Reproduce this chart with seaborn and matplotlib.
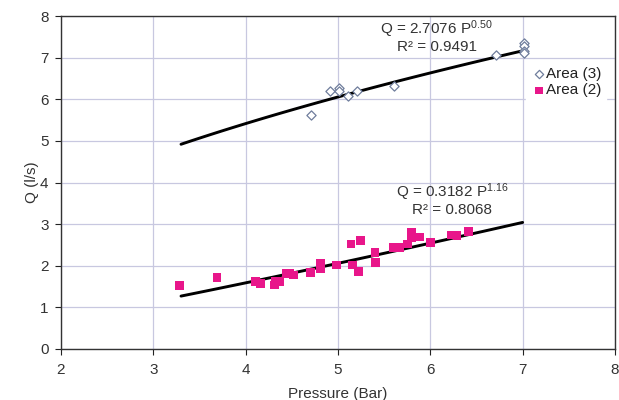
import numpy as np
import pandas as pd
import matplotlib
matplotlib.use("Agg")
import matplotlib.pyplot as plt
import seaborn as sns

# ---- data ----
area3_p = [4.71, 4.91, 5.01, 5.01, 5.11, 5.21, 5.61, 6.71, 7.01, 7.01, 7.01, 7.01]
area3_q = [5.63, 6.21, 6.27, 6.20, 6.07, 6.19, 6.32, 7.07, 7.35, 7.27, 7.15, 7.11]

area2_p = [3.28, 3.69, 4.11, 4.16, 4.31, 4.32, 4.37, 4.44, 4.48, 4.52, 4.70, 4.81,
           4.81, 4.98, 5.14, 5.24, 5.16, 5.22, 5.40, 5.41, 5.60, 5.67, 5.75, 5.80,
           5.80, 5.88, 6.00, 6.23, 6.29, 6.41]
area2_q = [1.53, 1.71, 1.63, 1.58, 1.54, 1.63, 1.63, 1.82, 1.82, 1.78, 1.83, 2.06,
           1.92, 2.02, 2.52, 2.60, 2.02, 1.86, 2.31, 2.07, 2.44, 2.44, 2.52, 2.80,
           2.67, 2.69, 2.55, 2.74, 2.72, 2.82]

fit3_a, fit3_b, fit3_r2 = 2.7076, 0.50, 0.9491
fit2_a, fit2_b, fit2_r2 = 0.3182, 1.16, 0.8068
fit_range = [3.3, 7.0]

x_ticks = [2, 3, 4, 5, 6, 7, 8]
y_ticks = [0, 1, 2, 3, 4, 5, 6, 7, 8]

# ---- style ----
sns.set_theme(style="white")
plt.rcParams['font.family'] = ['Liberation Sans', 'DejaVu Sans']
plt.rcParams['mathtext.fontset'] = 'custom'
plt.rcParams['mathtext.rm'] = 'Liberation Sans'
plt.rcParams['mathtext.it'] = 'Liberation Sans:italic'
plt.rcParams['mathtext.bf'] = 'Liberation Sans:bold'

fig = plt.figure(figsize=(6.19, 4.0), dpi=100)
ax = fig.add_axes([0.0985, 0.1275, 0.895, 0.8325])

df3 = pd.DataFrame({"P": area3_p, "Q": area3_q})
df2 = pd.DataFrame({"P": area2_p, "Q": area2_q})

pf = np.linspace(fit_range[0], fit_range[1], 60)
fit3 = pd.DataFrame({"P": pf, "Q": fit3_a * pf ** fit3_b})
fit2 = pd.DataFrame({"P": pf, "Q": fit2_a * pf ** fit2_b})

grid_c = "#c8c8e0"
ax.set_axisbelow(True)
ax.grid(True, color=grid_c, linewidth=0.9)

sns.lineplot(data=fit3, x="P", y="Q", ax=ax, color="black", linewidth=2.1, zorder=3, legend=False)
sns.lineplot(data=fit2, x="P", y="Q", ax=ax, color="black", linewidth=2.1, zorder=3, legend=False)

sns.scatterplot(data=df3, x="P", y="Q", ax=ax, marker="D", s=22,
                facecolor="white", edgecolor="#6f7d9c", linewidth=0.9,
                label="Area (3)", zorder=4)
sns.scatterplot(data=df2, x="P", y="Q", ax=ax, marker="s", s=40,
                color="#e8168a", edgecolor="none", linewidth=0,
                label="Area (2)", zorder=4)

ax.set_xlim(2, 8)
ax.set_ylim(0, 8)
ax.set_xticks(x_ticks)
ax.set_yticks(y_ticks)
ax.tick_params(axis="both", which="both", direction="out", length=4, width=0.8,
               colors="#222222", labelsize=11, labelcolor="#333333", bottom=True, left=True)
ax.tick_params(axis="x", pad=6)
ax.tick_params(axis="y", pad=5)
for s in ax.spines.values():
    s.set_color("#333333")
    s.set_linewidth(1.0)

ax.set_xlabel("Pressure (Bar)", fontsize=11, color="#333333", labelpad=7)
ax.set_ylabel("Q (l/s)", fontsize=11, color="#333333", labelpad=1)

ax.text(6.07, 7.69, r"Q = %.4f P$^{\mathregular{%.2f}}$" % (fit3_a, fit3_b),
        ha="center", va="center", fontsize=11, color="#333333")
ax.text(6.07, 7.26, "R² = %.4f" % fit3_r2, ha="center", va="center", fontsize=11, color="#333333")
ax.text(6.24, 3.77, r"Q = %.4f P$^{\mathregular{%.2f}}$" % (fit2_a, fit2_b),
        ha="center", va="center", fontsize=11, color="#333333")
ax.text(6.24, 3.34, "R² = %.4f" % fit2_r2, ha="center", va="center", fontsize=11, color="#333333")

leg = ax.legend(loc="upper left", bbox_to_anchor=(0.84, 0.86), frameon=True,
                fontsize=11, handletextpad=0.0, borderpad=0.3, labelspacing=0.15,
                handlelength=1.0, borderaxespad=0, markerscale=0.9)
leg.get_frame().set_facecolor("white")
leg.get_frame().set_edgecolor("white")
leg.get_frame().set_alpha(1.0)
for t in leg.get_texts():
    t.set_color("#222222")

fig.savefig("out.png", dpi=100, facecolor="white")
